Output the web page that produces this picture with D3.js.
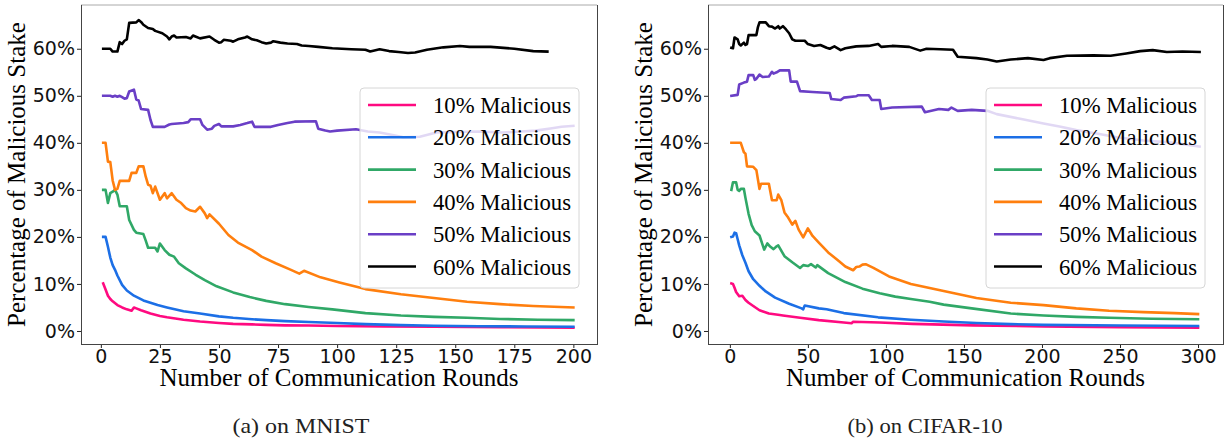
<!DOCTYPE html>
<html>
<head>
<meta charset="utf-8">
<script src="https://cdn.jsdelivr.net/npm/d3@7"></script>
<style>
  body { margin: 0; background: #fff; }
  svg { display: block; }
</style>
</head>
<body>
<svg id="fig" width="1228" height="443"></svg>
<script>
// ---- data: [round, % of stake held by malicious clients] ----
const seriesNames = ['10% Malicious', '20% Malicious', '30% Malicious', '40% Malicious', '50% Malicious', '60% Malicious'];
const yTicks = [0, 10, 20, 30, 40, 50, 60];
const mnistTicks = [0, 25, 50, 75, 100, 125, 150, 175, 200];
const cifarTicks = [0, 50, 100, 150, 200, 250, 300];
const captions = ['(a) on MNIST', '(b) on CIFAR-10'];
const xLabel = 'Number of Communication Rounds';
const yLabel = 'Percentage of Malicious Stake';

const mnist10 = [[1,10.1],[2,8.8],[3,7.5],[4,6.8],[5,6.3],[7,5.5],[9,5.0],[11,4.6],[13,4.3],[14,5.0],[15,4.8],[17,4.4],[21,3.7],[25,3.2],[28,2.9],[35,2.4],[42,2.0],[50,1.7],[56,1.5],[64,1.4],[70,1.3],[78,1.2],[88,1.15],[100,1.05],[120,0.95],[141,0.9],[170,0.8],[200,0.7]];
const mnist20 = [[1,20.0],[2,20.0],[3,17.9],[4,15.6],[5,14.0],[6,13.0],[7,11.8],[9,9.8],[11,8.6],[14,7.5],[18,6.5],[21,6.0],[24,5.5],[28,5.0],[35,4.2],[42,3.7],[50,3.1],[56,2.8],[64,2.5],[70,2.3],[78,2.1],[88,1.9],[100,1.7],[112,1.45],[127,1.25],[141,1.1],[160,1.0],[180,0.95],[200,0.9]];
const mnist30 = [[1,30.0],[2,30.0],[3,27.2],[4,29.3],[5,29.6],[6,30.0],[7,29.0],[8,26.5],[11,26.5],[12,23.6],[14,21.5],[15,20.9],[18,20.6],[19,19.2],[20,17.7],[23,17.7],[24,16.9],[25,18.6],[27,17.2],[29,16.2],[31,15.8],[33,14.4],[36,13.3],[40,12.0],[44,10.8],[49,9.5],[56,8.2],[63,7.2],[70,6.4],[78,5.7],[88,5.1],[98,4.6],[112,3.8],[127,3.3],[141,3.0],[155,2.8],[169,2.55],[185,2.4],[200,2.3]];
const mnist40 = [[1,40.0],[2,40.0],[3,36.0],[4,35.9],[5,32.0],[6,30.0],[7,30.2],[8,31.9],[12,31.9],[13,33.6],[15,33.6],[16,35.0],[18,35.0],[19,32.8],[20,31.1],[21,30.9],[22,29.3],[23,30.7],[25,27.9],[27,29.3],[28,28.2],[30,29.3],[32,27.9],[34,27.2],[36,26.1],[38,25.6],[40,25.4],[42,26.4],[44,25.0],[45,24.0],[46,24.8],[50,22.8],[54,20.4],[58,18.8],[64,17.2],[68,15.8],[74,14.4],[80,13.1],[84,12.2],[86,12.8],[93,11.4],[101,10.3],[112,8.9],[127,7.8],[141,7.0],[155,6.2],[169,5.7],[183,5.3],[200,5.0]];
const mnist50 = [[1,50.0],[4,50.0],[5,49.8],[6,50.0],[7,49.8],[8,50.0],[9,49.7],[10,49.4],[11,49.5],[12,50.9],[14,51.3],[15,49.2],[16,49.0],[17,47.2],[20,47.0],[21,44.9],[22,43.4],[27,43.4],[29,43.9],[30,44.0],[35,44.2],[37,44.4],[38,45.0],[42,45.0],[43,43.8],[45,42.8],[47,43.0],[48,43.6],[50,44.0],[51,43.5],[56,43.5],[59,43.8],[62,44.2],[64,44.5],[65,43.4],[72,43.4],[75,43.8],[79,44.2],[82,44.5],[91,44.6],[92,43.0],[95,42.6],[97,42.4],[100,42.6],[108,42.9],[113,42.4],[118,42.2],[124,41.6],[128,41.2],[135,41.3],[142,42.2],[150,42.3],[160,42.4],[170,42.2],[178,42.4],[184,42.6],[191,43.1],[195,43.4],[200,43.6]];
const mnist60 = [[1,60.0],[4,60.0],[5,59.4],[7,59.4],[8,61.4],[9,61.0],[10,61.7],[11,62.0],[12,65.5],[15,65.6],[16,66.1],[17,65.7],[18,65.1],[20,64.4],[22,64.2],[23,63.8],[26,63.3],[28,62.6],[29,62.0],[30,62.6],[31,62.8],[32,62.4],[36,62.5],[38,62.2],[39,62.8],[40,62.6],[42,62.2],[46,62.6],[48,61.9],[50,61.3],[51,61.4],[52,61.9],[55,61.7],[56,61.5],[58,62.0],[61,62.4],[62,62.6],[64,62.0],[66,61.8],[68,61.4],[70,61.1],[72,61.3],[73,61.6],[76,61.3],[79,61.1],[83,61.0],[85,60.7],[88,60.6],[92,60.4],[98,60.1],[106,59.9],[112,59.8],[114,59.4],[118,59.9],[122,59.5],[126,59.3],[130,59.1],[133,59.2],[138,59.8],[145,60.3],[152,60.6],[156,60.4],[165,60.4],[175,60.0],[183,59.5],[189,59.4]];

const cifar10 = [[1,10.1],[2,10.0],[3,9.2],[4,8.3],[6,7.4],[8,7.5],[10,6.6],[12,6.0],[15,5.3],[19,4.4],[25,3.7],[32,3.4],[34,3.3],[45,2.8],[57,2.3],[73,1.8],[78,1.65],[79,1.95],[96,1.8],[117,1.5],[156,1.2],[201,0.95],[250,0.8],[300,0.7]];
const cifar20 = [[1,20.0],[2,20.1],[3,20.9],[4,20.8],[5,19.5],[6,18.2],[8,16.1],[10,14.5],[12,12.7],[15,11.0],[19,9.6],[23,8.4],[29,7.1],[38,5.8],[46,4.8],[47,4.6],[48,5.4],[57,4.8],[62,4.6],[73,3.8],[95,2.9],[116,2.4],[137,2.0],[158,1.7],[180,1.45],[201,1.3],[250,1.15],[300,1.05]];
const cifar30 = [[1,30.0],[2,31.6],[4,31.6],[5,30.0],[6,29.8],[7,30.2],[9,30.2],[10,28.3],[12,24.9],[14,22.5],[16,21.2],[19,20.3],[22,17.3],[24,18.6],[26,17.9],[28,17.4],[30,18.0],[31,18.2],[35,15.9],[40,14.6],[45,13.4],[47,14.0],[50,13.8],[52,14.2],[55,13.5],[56,14.0],[63,12.3],[74,10.4],[85,9.0],[96,8.0],[106,7.3],[116,6.8],[128,6.2],[137,5.6],[155,4.8],[180,3.7],[201,3.3],[222,3.0],[243,2.8],[270,2.6],[300,2.5]];
const cifar40 = [[1,40.0],[7,40.0],[9,38.0],[10,37.7],[11,35.0],[15,34.9],[17,34.2],[19,30.2],[20,31.3],[25,31.3],[27,27.8],[30,27.8],[31,29.0],[33,27.8],[35,25.2],[37,24.3],[40,22.6],[42,23.4],[44,21.6],[47,19.9],[50,21.8],[53,20.2],[57,18.8],[63,16.7],[70,14.8],[74,13.7],[79,12.9],[81,13.6],[83,13.7],[85,14.1],[87,14.2],[92,13.4],[102,11.6],[116,10.0],[137,8.5],[158,7.0],[180,6.0],[201,5.5],[222,4.8],[243,4.3],[265,4.0],[285,3.8],[300,3.6]];
const cifar50 = [[1,50.0],[5,50.2],[6,52.4],[9,52.8],[11,53.0],[12,54.4],[15,54.4],[16,53.4],[17,53.6],[19,54.5],[21,54.0],[25,54.1],[26,54.6],[27,55.1],[28,54.7],[30,55.0],[32,55.4],[38,55.4],[39,53.0],[43,53.0],[45,51.0],[53,50.8],[64,50.6],[65,49.3],[71,49.1],[73,49.6],[81,49.9],[82,50.1],[89,50.1],[91,49.1],[96,49.1],[97,47.2],[104,47.5],[123,47.7],[125,46.5],[134,47.2],[140,47.0],[142,47.5],[146,46.8],[155,47.0],[165,46.8],[171,46.1],[186,45.1],[201,44.1],[212,43.4],[222,42.7],[235,42.0],[248,41.2],[265,40.5],[282,40.1],[301,39.2]];
const cifar60 = [[1,60.2],[2,60.1],[3,62.4],[5,62.0],[6,61.0],[7,60.7],[9,61.3],[10,60.8],[11,61.0],[12,62.9],[17,62.9],[18,64.6],[19,65.6],[23,65.6],[25,64.8],[27,64.7],[29,64.3],[31,64.8],[32,64.3],[34,64.8],[36,64.1],[38,63.3],[40,62.0],[42,61.7],[48,61.7],[50,61.0],[54,60.6],[58,60.8],[62,60.2],[64,60.0],[67,60.5],[71,59.7],[74,60.1],[81,60.5],[89,60.6],[95,61.0],[97,60.4],[104,60.6],[115,60.4],[122,59.6],[126,60.0],[135,59.9],[143,59.8],[146,58.3],[158,58.0],[165,57.7],[171,57.3],[180,57.7],[191,58.0],[201,57.6],[205,58.0],[216,58.5],[233,58.6],[244,58.5],[254,59.0],[263,59.5],[271,59.7],[280,59.3],[290,59.4],[301,59.3]];

// ---- styles ----
const COLORS = ['#ff0a80', '#1c6fe6', '#30a867', '#ff7f0e', '#6a3fc6', '#000000'];
const LINE_W = 2.6;
const TICK_FONT = '"DejaVu Sans", sans-serif';
const SERIF = '"Liberation Serif", "Times New Roman", serif';

const AX_TOP = 5, AX_BOTTOM = 344;

const panels = [
	{ series: [mnist10, mnist20, mnist30, mnist40, mnist50, mnist60], xTicks: mnistTicks,
		xDomain: [-8.4, 210], left: 81, right: 597, caption: captions[0], capX: 301, capW: 137 },
	{ series: [cifar10, cifar20, cifar30, cifar40, cifar50, cifar60], xTicks: cifarTicks,
		xDomain: [-14, 316], left: 708, right: 1223, caption: captions[1], capX: 925, capW: 155 },
];

const svg = d3.select('#fig');
svg.append('rect').attr('width', 1228).attr('height', 443).attr('fill', '#fff');

panels.forEach(p => drawPanel(p));

function drawPanel(p) {
	const x = d3.scaleLinear().domain(p.xDomain).range([p.left, p.right]);
	const y = d3.scaleLinear().domain([-2.77, 69.3]).range([AX_BOTTOM, AX_TOP]);
	const g = svg.append('g');

	// series lines
	const line = d3.line().x(d => x(d[0])).y(d => y(d[1]));
	p.series.forEach((s, i) => {
		g.append('path')
			.attr('d', line(s))
			.attr('fill', 'none')
			.attr('stroke', COLORS[i])
			.attr('stroke-width', LINE_W)
			.attr('stroke-linejoin', 'round')
			.attr('stroke-linecap', 'square');
	});

	// axes (spines drawn separately)
	const xAxis = g.append('g')
		.attr('transform', `translate(0,${AX_BOTTOM})`)
		.call(d3.axisBottom(x).tickValues(p.xTicks).tickSize(4).tickPadding(2).tickSizeOuter(0));
	const yAxis = g.append('g')
		.attr('transform', `translate(${p.left},0)`)
		.call(d3.axisLeft(y).tickValues(yTicks).tickFormat(d => d + '%').tickSize(4).tickPadding(2).tickSizeOuter(0));
	[xAxis, yAxis].forEach(a => {
		a.select('.domain').remove();
		a.selectAll('line').attr('stroke', '#222');
		a.selectAll('text').attr('font-family', TICK_FONT).attr('font-size', 19).attr('fill', '#111');
	});

	// spines
	const sp = g.append('g').attr('fill', 'none').attr('stroke-width', 1);
	sp.append('line').attr('x1', p.left).attr('x2', p.right).attr('y1', AX_TOP).attr('y2', AX_TOP).attr('stroke', '#aaa');
	sp.append('line').attr('x1', p.left + 0.5).attr('x2', p.left + 0.5).attr('y1', AX_TOP).attr('y2', AX_BOTTOM).attr('stroke', '#444');
	sp.append('line').attr('x1', p.right + 0.5).attr('x2', p.right + 0.5).attr('y1', AX_TOP).attr('y2', AX_BOTTOM).attr('stroke', '#444');
	sp.append('line').attr('x1', p.left).attr('x2', p.right + 1).attr('y1', AX_BOTTOM + 0.5).attr('y2', AX_BOTTOM + 0.5).attr('stroke', '#444');

	// axis titles
	g.append('text')
		.attr('x', (p.left + p.right) / 2).attr('y', 386)
		.attr('text-anchor', 'middle')
		.attr('font-family', SERIF).attr('font-size', 25)
		.text(xLabel);
	g.append('text')
		.attr('transform', `translate(${p.left - 56},${(AX_TOP + AX_BOTTOM) / 2}) rotate(-90)`)
		.attr('text-anchor', 'middle')
		.attr('font-family', SERIF).attr('font-size', 25)
		.text(yLabel);

	// legend
	const bw = 219, bh = 200, bx = p.right - 18 - bw, by = 88;
	const lg = g.append('g');
	lg.append('rect')
		.attr('x', bx).attr('y', by).attr('width', bw).attr('height', bh).attr('rx', 4)
		.attr('fill', '#fff').attr('fill-opacity', 0.8)
		.attr('stroke', '#d6d6d6').attr('stroke-width', 1);
	seriesNames.forEach((name, i) => {
		const cy = 105 + i * 32.3;
		lg.append('line')
			.attr('x1', bx + 8).attr('x2', bx + 56).attr('y1', cy).attr('y2', cy)
			.attr('stroke', COLORS[i]).attr('stroke-width', LINE_W);
		lg.append('text')
			.attr('x', bx + 73).attr('y', cy + 8)
			.attr('font-family', SERIF).attr('font-size', 22.7)
			.text(name);
	});

	// caption
	g.append('text')
		.attr('x', p.capX - p.capW / 2).attr('y', 433)
		.attr('font-family', SERIF).attr('font-size', 21)
		.attr('textLength', p.capW).attr('lengthAdjust', 'spacingAndGlyphs')
		.attr('fill', '#222')
		.text(p.caption);
}
</script>
</body>
</html>
